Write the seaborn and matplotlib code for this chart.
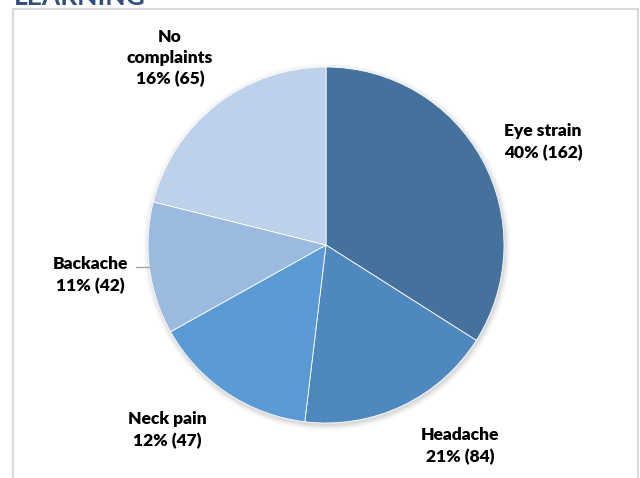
import matplotlib
matplotlib.use("Agg")
import matplotlib.pyplot as plt
import seaborn as sns
from matplotlib.patches import Rectangle, Circle

# ---- data ----
categories = ["Eye strain", "Headache", "Neck pain", "Backache", "No complaints"]
slice_share = [34.0, 17.9, 15.0, 12.0, 21.1]          # slice sizes as drawn
label_pct = ["40%", "21%", "12%", "11%", "16%"]        # printed percentages
label_count = [162, 84, 47, 42, 65]                    # printed counts
colors = ["#44729D", "#4E88BE", "#5B9BD5", "#9BBAE0", "#BDD1EA"]

sns.set_theme(style="white")
plt.rcParams["font.family"] = ["Lato", "DejaVu Sans"]

fig = plt.figure(figsize=(6.4, 4.78), dpi=100)
ax = fig.add_axes([0, 0, 1, 1])

# frame
ax.add_patch(Rectangle((13, -20), 625, 478 - 9 + 20, fill=False,
                       edgecolor="#D9D9D9", linewidth=1.5))
# cut-off title
ax.text(14, 473, "LEARNING", fontsize=19, fontweight="bold",
        color="#2F4F7F", ha="left", va="baseline")

cx, cy, r = 326, 478 - 245, 178
# soft shadow
for i, a in enumerate([0.05, 0.04, 0.03, 0.02]):
    ax.add_patch(Circle((cx + 1, cy - 2), r + 1 + i * 1.5, color="black",
                        alpha=a, linewidth=0, zorder=0))

ax.pie(slice_share, colors=colors, startangle=90, counterclock=False,
       center=(cx, cy), radius=r, frame=True,
       wedgeprops=dict(linewidth=0.6, edgecolor="white"))
ax.set_xlim(0, 640)
ax.set_ylim(0, 478)
ax.set_aspect("equal")
ax.axis("off")

label_pos = {
    "Eye strain": (543, 142),
    "Headache": (460, 446),
    "Neck pain": (167, 430),
    "Backache": (90, 275),
    "No complaints": (170, 58),
}
for cat, p, c in zip(categories, label_pct, label_count):
    name = "No\ncomplaints" if cat == "No complaints" else cat
    x, y = label_pos[cat]
    ax.text(x, 478 - y, f"{name}\n{p} ({c})", ha="center", va="center",
            fontsize=12.5, fontweight="heavy", color="black", linespacing=1.4)

# leader line for Backache
ax.plot([136, 150], [478 - 267, 478 - 267], color="#A6A6A6", linewidth=1)

fig.savefig("out.png", dpi=100)
